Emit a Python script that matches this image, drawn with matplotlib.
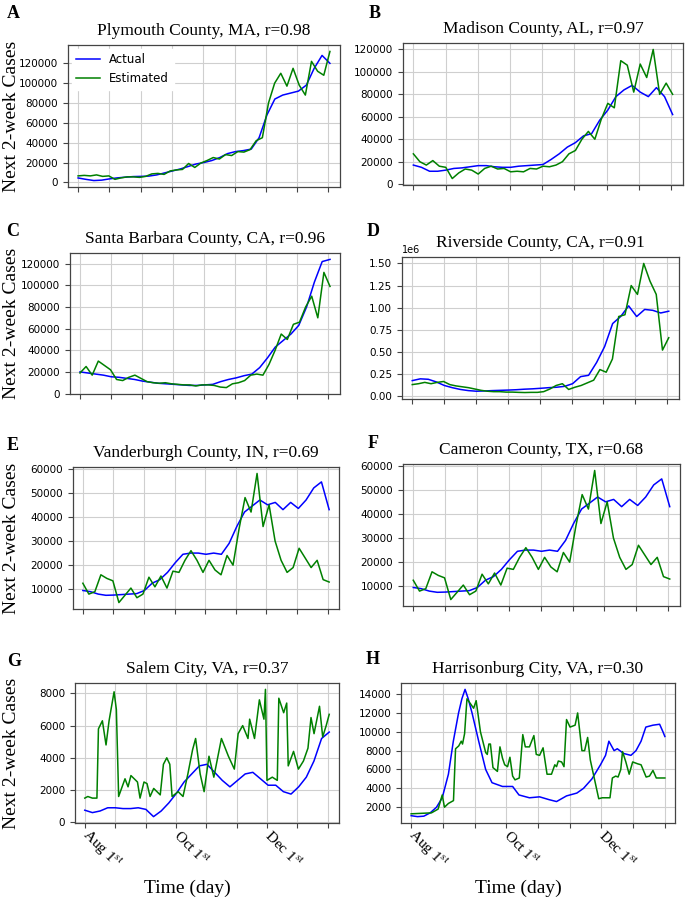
import numpy as np
import matplotlib.pyplot as plt
from matplotlib.ticker import MultipleLocator

plt.rcParams['mathtext.fontset'] = 'stix'
SERIF = 'Liberation Serif'

# ---- values (next 2-week cases) ----
# "actual" series sampled every ~5 days, "estimated" every ~4 days (Aug 1st = day 0)
plymouth_actual = [4400, 3000, 1800, 2200, 3500, 4500, 5200, 5800, 6000, 6300, 7500,
                   9500, 11500, 13500, 16000, 18500, 20000, 22000, 25000, 29000, 31000,
                   32000, 33500, 45000, 68000, 84000, 88000, 90000, 92000, 98000, 115000,
                   128000, 120000]
plymouth_est = [6500, 7000, 6500, 7500, 6000, 6500, 3000, 4500, 5500, 5500, 5000, 6000,
                8500, 9000, 8000, 11500, 12500, 13000, 19000, 15000, 19500, 22000, 25000,
                23500, 28000, 27000, 31000, 30500, 33000, 42000, 45000, 80000, 100000,
                110000, 97000, 115000, 98000, 88000, 122000, 112000, 108000, 132000]

madison_actual = [17000, 15000, 11500, 11500, 12500, 14000, 14500, 15500, 16500, 16500,
                  15500, 15000, 15000, 16000, 16500, 17000, 17500, 22000, 27000, 33000,
                  37000, 43000, 45000, 57000, 66000, 78000, 84000, 88000, 82000, 78000,
                  86000, 78000, 62000]
madison_est = [27000, 20000, 17000, 21000, 16000, 15000, 5000, 10000, 13500, 12500, 9000,
               14000, 16000, 13500, 14000, 11000, 11500, 11000, 14000, 13500, 16000, 15500,
               17000, 20000, 27000, 30000, 40000, 47000, 40000, 58000, 72000, 68000, 110000,
               106000, 82000, 107000, 95000, 120000, 80000, 90000, 80000]

santa_barbara_actual = [20000, 19000, 18000, 17000, 15500, 15000, 14000, 13000, 11500,
                        10500, 9500, 9000, 8500, 8000, 7500, 7500, 8000, 8500, 11000, 13000,
                        14500, 16500, 18000, 24000, 33000, 43000, 49000, 55000, 63000, 80000,
                        103000, 122000, 124000]
santa_barbara_est = [19000, 25000, 17000, 30000, 26000, 22000, 13000, 12000, 15000, 17000,
                     14000, 11000, 10000, 9500, 10000, 9000, 8500, 8000, 8000, 7000, 8000,
                     8000, 7500, 6000, 5500, 9000, 10000, 12000, 17000, 18000, 17000, 27000,
                     40000, 55000, 50000, 64000, 66000, 80000, 90000, 70000, 112000, 99000]

riverside_actual = [175000, 195000, 190000, 160000, 120000, 95000, 75000, 62000, 55000,
                    58000, 62000, 65000, 68000, 72000, 78000, 82000, 88000, 95000, 100000,
                    110000, 140000, 220000, 235000, 380000, 560000, 820000, 900000, 1020000,
                    900000, 980000, 970000, 940000, 960000]
riverside_est = [130000, 140000, 155000, 140000, 155000, 165000, 130000, 115000, 105000,
                 95000, 80000, 65000, 55000, 50000, 50000, 45000, 45000, 42000, 40000, 42000,
                 42000, 50000, 80000, 120000, 140000, 75000, 100000, 120000, 150000, 180000,
                 300000, 270000, 420000, 900000, 920000, 1250000, 1150000, 1500000, 1300000,
                 1150000, 520000, 660000]

vanderburgh_actual = [9500, 9000, 8000, 7500, 7600, 7800, 8000, 8200, 9500, 12500, 14000,
                      17000, 21000, 24500, 25000, 25000, 24500, 25000, 24500, 29000, 36000,
                      42000, 44500, 47000, 45000, 46000, 43000, 46000, 43500, 47000, 52000,
                      54500, 43000]
vanderburgh_est = [12500, 8000, 9000, 16000, 14500, 13500, 4500, 7500, 10500, 6500, 8000,
                   15000, 11000, 15500, 10500, 17500, 17000, 22000, 26000, 22000, 17000,
                   22000, 18000, 16000, 24000, 20000, 35000, 48000, 42000, 58000, 36000,
                   45000, 30000, 22000, 17000, 19000, 27000, 23000, 19000, 22000, 14000, 13000]

# Cameron County panel shows the same curves as Vanderburgh in the source figure
cameron_actual = list(vanderburgh_actual)
cameron_est = list(vanderburgh_est)

salem_actual = [750, 600, 700, 900, 900, 850, 850, 900, 800, 350, 700, 1200, 1800, 2500,
                3000, 3500, 3600, 3100, 2600, 2200, 2600, 3000, 3100, 2700, 2300, 2300,
                1900, 1750, 2200, 2800, 3800, 5200, 5600]
salem_est_days = [0, 2, 5, 8, 9, 11.6, 14, 16, 19.3, 20.8, 22.3, 26.5, 28.5, 30.4, 34.7,
                  36.4, 39, 41, 43, 45.4, 49.7, 51.8, 54, 56, 57.5, 61.5, 64.7, 67.9, 71,
                  73, 76, 78.6, 81.8, 85, 90, 94.6, 98.5, 101, 104, 107.5, 108.6, 111.8,
                  115, 118, 119, 120, 123.5, 126.8, 127.8, 131, 133, 134, 137.5, 140.7,
                  144, 147, 149, 151, 154.6, 156.7, 159, 161]
salem_est = [1500, 1600, 1500, 1500, 5800, 6300, 4800, 6300, 8100, 7000, 1600, 2700, 2200,
             2900, 2500, 1500, 2500, 2400, 1600, 2100, 1700, 3600, 4000, 3600, 1600, 1900,
             1600, 3000, 4500, 5200, 3000, 1900, 4100, 2800, 5200, 4100, 3300, 5500, 6000,
             5200, 6400, 5200, 7600, 6400, 8250, 2600, 2800, 2600, 7700, 6800, 7400, 3500,
             4400, 3300, 3800, 4600, 6500, 5500, 7200, 5300, 6000, 6700]

harrisonburg_actual_days = [0, 4, 8, 12, 16, 19.6, 23.5, 26.6, 29.9, 32, 34, 36, 38.4,
                            42.6, 47, 51, 57.6, 64, 68, 74.6, 81, 87, 91.7, 98, 104.5,
                            108.7, 114, 119.4, 122.6, 124.7, 128, 130, 134, 138.6, 141.8,
                            145, 148, 152.5, 156.7, 158.8, 160]
harrisonburg_actual = [1100, 1000, 1050, 1400, 2000, 3000, 5500, 9000, 12000, 13500, 14500,
                       13500, 12000, 9000, 6000, 4600, 4200, 4200, 3300, 3000, 3100, 2800,
                       2600, 3200, 3500, 4000, 5000, 6500, 7500, 9000, 8000, 8200, 7700,
                       7500, 8000, 9000, 10500, 10700, 10800, 10000, 9500]
harrisonburg_est_days = [0, 12.8, 17, 19.6, 21, 23.5, 26.7, 28, 30, 31.6, 32.4, 33.7, 35.2,
                         37.3, 39.4, 41, 43.7, 47, 48, 49, 50, 51.6, 54.4, 56, 57.6, 59,
                         60.8, 62.3, 64, 65.5, 68.2, 70.4, 72, 74.6, 77.4, 78.9, 81, 83.2,
                         85.7, 88.5, 90.6, 91.7, 92.8, 94.9, 96.4, 98, 100.2, 103.4, 105,
                         107.7, 109.4, 111.3, 113, 118.3, 120.5, 125.4, 126.9, 129, 130.5,
                         132.2, 133.3, 135.4, 137.5, 139.7, 142.9, 145, 148.2, 150.3, 152.5,
                         154.6, 160]
harrisonburg_est = [1300, 1400, 1800, 3300, 2000, 2400, 2700, 8200, 8500, 9000, 8700, 9800,
                    13500, 13000, 12500, 13300, 10000, 7800, 7600, 8700, 8700, 6200, 5800,
                    8400, 7200, 6500, 6300, 7300, 5300, 4900, 5100, 9700, 8400, 8400, 9600,
                    7600, 7500, 8300, 5500, 5500, 6500, 6300, 6900, 6800, 6300, 11300,
                    10500, 10700, 12000, 8000, 8000, 9400, 7000, 2900, 3000, 3000, 5100,
                    5300, 5200, 6000, 7900, 6800, 5500, 6800, 6600, 6500, 5200, 5300, 5900,
                    5100, 5100]

titles = ['Plymouth County, MA, r=0.98', 'Madison County, AL, r=0.97',
          'Santa Barbara County, CA, r=0.96', 'Riverside County, CA, r=0.91',
          'Vanderburgh County, IN, r=0.69', 'Cameron County, TX, r=0.68',
          'Salem City, VA, r=0.37', 'Harrisonburg City, VA, r=0.30']
letters = list('ABCDEFGH')
y_steps = [20000, 20000, 20000, 250000, 10000, 10000, 2000, 2000]
tick_labels = ['Aug 1$^{\\rm st}$', '', '', 'Oct 1$^{\\rm st}$', '', '',
               'Dec 1$^{\\rm st}$', '', '']


def days_for(vals):
    return np.linspace(0, 161, len(vals))


series = [
    (days_for(plymouth_actual), plymouth_actual, days_for(plymouth_est), plymouth_est),
    (days_for(madison_actual), madison_actual, days_for(madison_est), madison_est),
    (days_for(santa_barbara_actual), santa_barbara_actual,
     days_for(santa_barbara_est), santa_barbara_est),
    (days_for(riverside_actual), riverside_actual, days_for(riverside_est), riverside_est),
    (days_for(vanderburgh_actual), vanderburgh_actual,
     days_for(vanderburgh_est), vanderburgh_est),
    (days_for(cameron_actual), cameron_actual, days_for(cameron_est), cameron_est),
    (days_for(salem_actual), salem_actual, salem_est_days, salem_est),
    (harrisonburg_actual_days, harrisonburg_actual, harrisonburg_est_days, harrisonburg_est),
]

# axes boxes in pixels: left, right, top, bottom
boxes = [(68, 340, 45, 187), (403, 683, 43, 185),
         (70, 340, 253, 394), (402, 679, 257, 399),
         (73, 339, 467, 609), (403, 680, 464, 606),
         (75, 339, 683, 823), (401, 675, 683, 823)]
letter_pos = [(13, 14), (375, 13), (13, 231), (373, 231),
              (13, 446), (373, 444), (14, 661), (373, 659)]

W, H = 685, 902
fig = plt.figure(figsize=(W / 100, H / 100), dpi=100)

for i, (xa, ya, xe, ye) in enumerate(series):
    l, r, t, b = boxes[i]
    ax = fig.add_axes([l / W, 1 - b / H, (r - l) / W, (b - t) / H])
    ax.plot(xa, ya, color='blue', lw=1.1, label='Actual')
    ax.plot(xe, ye, color='green', lw=1.1, label='Estimated')
    ax.margins(x=0.04)
    ax.grid(True, color='#cfcfcf', lw=0.8)
    ax.set_axisbelow(True)
    for s in ax.spines.values():
        s.set_color('#444444')
        s.set_linewidth(0.9)
    ax.tick_params(labelsize=7.5, length=3.5, width=0.8, color='#444444')
    ax.yaxis.set_major_locator(MultipleLocator(y_steps[i]))
    ax.yaxis.get_offset_text().set_fontsize(7)
    ax.set_xticks(np.arange(0, 161, 20))
    ax.set_title(titles[i], family=SERIF, fontsize=12.5, pad=7)
    if i >= 6:
        ax.set_xticklabels(tick_labels, family=SERIF, fontsize=11, rotation=-45,
                           rotation_mode='anchor', ha='left', va='center')
        cx = (l + r) / 2 - 20
        fig.text(cx / W, 1 - 888 / H, 'Time (day)', family=SERIF, fontsize=14,
                 ha='center', va='center')
    else:
        ax.set_xticklabels([])
    if i % 2 == 0:
        fig.text(12 / W, 1 - (t + b) / 2 / H, 'Next 2-week Cases', family=SERIF,
                 fontsize=14, rotation=90, ha='center', va='center')
    if i == 0:
        ax.legend(loc='upper left', fontsize=8.5, frameon=True, edgecolor='white',
                  framealpha=1, borderaxespad=0.3)
    lx, ly = letter_pos[i]
    fig.text(lx / W, 1 - ly / H, letters[i], family=SERIF, fontsize=13,
             fontweight='bold', ha='center', va='center')

fig.savefig('out.png', dpi=100)
